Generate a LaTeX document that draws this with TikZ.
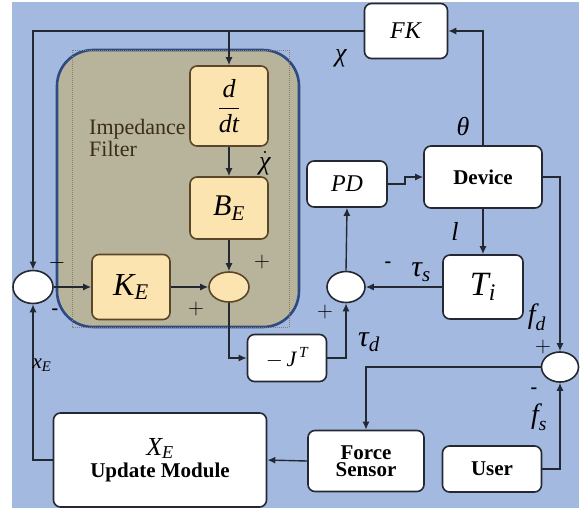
\RequirePackage{fix-cm}
\documentclass[tikz,border=0pt]{standalone}
\usepackage{amsmath}
\usepackage{fontspec}
\setmainfont{Liberation Serif}
\usetikzlibrary{arrows.meta,shapes.geometric}

\definecolor{bgblue}{RGB}{163,185,224}
\definecolor{filterfill}{RGB}{183,180,155}
\definecolor{filterrim}{RGB}{45,75,130}
\definecolor{softyellow}{RGB}{252,228,176}
\definecolor{yellowrim}{RGB}{90,70,40}
\definecolor{wire}{RGB}{35,40,50}
\definecolor{filtertext}{RGB}{60,45,25}

\newcommand\sz[1]{\fontsize{#1}{#1}\selectfont}
\newcommand\vi[1]{\textit{#1}}

\tikzset{
  whitebox/.style={draw=wire, line width=1.6pt, fill=white, rounded corners=7pt,
    inner sep=0pt, align=center},
  yellowbox/.style={draw=yellowrim, line width=1.6pt, fill=softyellow, rounded corners=7pt,
    inner sep=0pt, align=center},
  junction/.style={ellipse, draw=wire, line width=1.6pt, fill=white, inner sep=0pt},
  yjunction/.style={ellipse, draw=yellowrim, line width=1.6pt, fill=softyellow, inner sep=0pt},
  wireline/.style={draw=wire, line width=1.4pt},
  arr/.style={wireline, -{Latex[length=8pt,width=7pt]}},
  lbl/.style={inner sep=0pt, text=black},
}

\begin{document}
\begin{tikzpicture}[x=1pt,y=-1pt]
\useasboundingbox (0,0) rectangle (580,512);
\fill[white] (0,0) rectangle (580,512);
\fill[bgblue] (12,2) rectangle (579,508);

% impedance filter block
\filldraw[fill=filterfill, draw=filterrim, line width=2.6pt, rounded corners=36pt]
  (57,50) rectangle (299,327);
\draw[yellowrim!70, densely dotted, line width=1pt] (72,50) rectangle (289,327);
\node[lbl, text=filtertext, align=left, anchor=north west] (filtername) at (89,119)
  {\sz{22}Impedance\\[1pt]\sz{22}Filter};

% blocks
\node[whitebox, minimum width=83pt, minimum height=55pt] (fk) at (406,31) {\sz{24}\vi{FK}};
\node[yellowbox, minimum width=78pt, minimum height=80pt] (ddt) at (229,106)
  {\sz{26}$\dfrac{\vi{d}}{\vi{dt}}$};
\node[yellowbox, minimum width=78pt, minimum height=62pt] (be) at (229,208)
  {\sz{30}$\vi{B}_{\vi{E}}$};
\node[yellowbox, minimum width=78pt, minimum height=65pt] (ke) at (131,287)
  {\sz{32}$\vi{K}_{\vi{E}}$};
\node[yjunction, minimum width=40pt, minimum height=30pt] (sumin) at (229,287) {};
\node[junction, minimum width=40pt, minimum height=33pt] (suml) at (33,287) {};
\node[whitebox, minimum width=79pt, minimum height=47pt] (jt) at (287,358)
  {\sz{22}$-\,\vi{J}^{\,\vi{T}}$};
\node[junction, minimum width=38pt, minimum height=31pt] (sumt) at (346,287) {};
\node[whitebox, minimum width=80pt, minimum height=46pt] (pd) at (347,184) {\sz{24}\vi{PD}};
\node[whitebox, minimum width=118pt, minimum height=62pt] (dev) at (483,177) {\sz{21}\textbf{Device}};
\node[whitebox, minimum width=80pt, minimum height=64pt] (ti) at (483,287)
  {\sz{34}$\vi{T}_{\vi{i}}$};
\node[junction, minimum width=37pt, minimum height=30pt] (sumf) at (560,367) {};
\node[whitebox, minimum width=116pt, minimum height=61pt] (fs) at (366,461)
  {\sz{21}\textbf{Force}\\[2pt]\sz{21}\textbf{Sensor}};
\node[whitebox, minimum width=99pt, minimum height=46pt] (user) at (492,469) {\sz{21}\textbf{User}};
\node[whitebox, minimum width=213pt, minimum height=94pt] (upd) at (160,460)
  {\sz{26}$\vi{X}_{\vi{E}}$\\[3pt]\sz{21}\textbf{Update Module}};

% connectors
\coordinate (tap) at (ddt.north |- fk.west);
\draw[arr] (dev.north) |- (fk.east);
\draw[arr] (fk.west) -| (suml.north);
\draw[arr] (tap) -- (ddt.north);
\draw[arr] (ddt.south) -- (be.north);
\draw[arr] (be.south) -- (sumin.north);
\draw[arr] (suml.east) -- (ke.west);
\draw[arr] (ke.east) -- (sumin.west);
\draw[arr] (sumin.south) |- (jt.west);
\draw[arr] (jt.east) -| (sumt.south);
\draw[arr] (sumt.north) -- (pd.south);
\draw[arr] (pd.east) -- ++(17,0) |- (dev.west);
\draw[arr] (dev.south) -- (ti.north);
\draw[arr] (ti.west) -- (sumt.east);
\draw[arr] (dev.east) -| (sumf.north);
\draw[arr] (user.east) -| (sumf.south);
\draw[arr] (sumf.west) -| (fs.north);
\draw[arr] (fs.west) -- (upd.east);
\draw[arr] (upd.west) -| (suml.south);

% signal names
\node[lbl] (chi) at (341,58) {\sz{26}\vi{χ}};
\node[lbl] (chidot) at (265,163) {\sz{26}$\dot{\text{\vi{χ}}}$};
\node[lbl] (theta) at (463,127) {\sz{26}\vi{θ}};
\node[lbl] (ell) at (455,231) {\sz{26}\vi{l}};
\node[lbl] (taus) at (421,272) {\sz{30}$\vi{τ}_{\vi{s}}$};
\node[lbl] (taud) at (369,342) {\sz{30}$\vi{τ}_{\vi{d}}$};
\node[lbl] (fd) at (537,317) {\sz{28}$\vi{f}_{\vi{d}}$};
\node[lbl] (fsig) at (539,417) {\sz{28}$\vi{f}_{\vi{s}}$};
\node[lbl] (xe) at (42,365) {\sz{21}$\vi{x}_{\vi{E}}$};

% signs at the junctions
\node[lbl] (p1) at (262,262) {\sz{22}$+$};
\node[lbl] (p2) at (196,309) {\sz{22}$+$};
\node[lbl] (m1) at (57,263) {\sz{22}$-$};
\node[lbl] (m2) at (55,312) {\sz{20}\textbf{-}};
\node[lbl] (m3) at (388,265) {\sz{20}\textbf{-}};
\node[lbl] (p3) at (325,312) {\sz{22}$+$};
\node[lbl] (p4) at (543,347) {\sz{22}$+$};
\node[lbl] (m4) at (534,391) {\sz{20}\textbf{-}};
\end{tikzpicture}
\end{document}
